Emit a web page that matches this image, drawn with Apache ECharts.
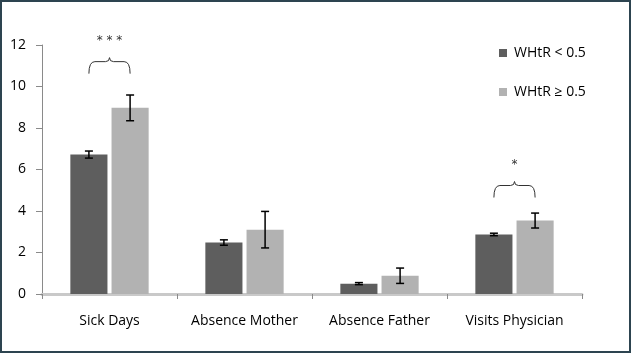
<!DOCTYPE html>
<html>
<head>
<meta charset="utf-8">
<script src="https://cdn.jsdelivr.net/npm/echarts@6/dist/echarts.min.js"></script>
<style>
  html, body { margin: 0; padding: 0; background: #fff; }
  #wrap { position: relative; width: 631px; height: 353px; }
  #chart { position: absolute; left: 0; top: 0; width: 631px; height: 353px; }
  #frame { position: absolute; left: 0; top: 0; width: 631px; height: 353px;
           box-sizing: border-box; border: 2px solid #2d4450; pointer-events: none; }
</style>
</head>
<body>
<div id="wrap">
  <div id="chart"></div>
  <div id="frame"></div>
</div>
<script>
// data
const categories = ['Sick Days', 'Absence Mother', 'Absence Father', 'Visits Physician'];
const seriesNames = ['WHtR < 0.5', 'WHtR \u2265 0.5'];
const lowMean = [6.72, 2.48, 0.5, 2.87];
const lowErr = [0.17, 0.13, 0.05, 0.06];
const highMean = [8.97, 3.1, 0.88, 3.54];
const highErr = [0.62, 0.88, 0.37, 0.36];
const yTicks = { min: 0, max: 12, interval: 2 };

// significance braces: category, value at brace ends, stars
const braceCats = [0, 3];
const braceLevel = [10.62, 4.65];
const braceLabel = ['* * *', '*'];

const darkColor = '#5e5e5e';
const lightColor = '#b2b2b2';
const catGap = 0.42;   // barCategoryGap
const barGapRatio = 0.11;

// half distance between the two bar centres, in px
function barOffset(api) {
  const band = api.size([1, 0])[0];
  const w = band * (1 - catGap) / (2 + barGapRatio);
  return (w + w * barGapRatio) / 2;
}

function errorRenderer(sign) {
  return function (params, api) {
    const i = api.value(0);
    const top = api.coord([i, api.value(1) + api.value(2)]);
    const bot = api.coord([i, api.value(1) - api.value(2)]);
    const x = top[0] + sign * barOffset(api);
    const cap = 4;
    const style = { stroke: '#000', lineWidth: 1.5 };
    return {
      type: 'group',
      children: [
        { type: 'line', shape: { x1: x, y1: top[1], x2: x, y2: bot[1] }, style: style },
        { type: 'line', shape: { x1: x - cap, y1: top[1], x2: x + cap, y2: top[1] }, style: style },
        { type: 'line', shape: { x1: x - cap, y1: bot[1], x2: x + cap, y2: bot[1] }, style: style }
      ]
    };
  };
}

function braceRenderer(params, api) {
  const c = api.coord([api.value(0), api.value(1)]);
  const off = barOffset(api);
  const x0 = c[0] - off, x1 = c[0] + off, xm = c[0], yb = c[1];
  const yl = yb - 12;
  const path = 'M' + x0 + ',' + yb +
    ' Q' + x0 + ',' + yl + ' ' + (x0 + 6) + ',' + yl +
    ' L' + (xm - 4) + ',' + yl +
    ' Q' + xm + ',' + yl + ' ' + xm + ',' + (yl - 4) +
    ' Q' + xm + ',' + yl + ' ' + (xm + 4) + ',' + yl +
    ' L' + (x1 - 6) + ',' + yl +
    ' Q' + x1 + ',' + yl + ' ' + x1 + ',' + yb;
  return {
    type: 'group',
    children: [
      { type: 'path', shape: { pathData: path }, style: { stroke: '#333', lineWidth: 1, fill: null } },
      { type: 'text', x: xm, y: yl - 21,
        style: { text: braceLabel[params.dataIndex], fill: '#333', font: '12px "DejaVu Sans"', align: 'center', verticalAlign: 'middle' } }
    ]
  };
}

const chart = echarts.init(document.getElementById('chart'));
const option = {
  animation: false,
  backgroundColor: '#fff',
  textStyle: { fontFamily: '"Open Sans", "Noto Sans", sans-serif' },
  grid: { left: 42, right: 49, top: 45, bottom: 59 },
  legend: {
    orient: 'vertical',
    left: 494,
    top: 41,
    itemWidth: 8,
    itemHeight: 8,
    itemGap: 25,
    icon: 'rect',
    data: seriesNames,
    textStyle: { fontSize: 14, color: '#000', padding: [0, 0, 0, 2] }
  },
  xAxis: {
    type: 'category',
    data: categories,
    axisLine: { lineStyle: { color: '#c9c9c9', width: 3 } },
    axisTick: { show: true, interval: 0, alignWithLabel: false, length: 5, lineStyle: { color: '#8a8a8a' } },
    axisLabel: { interval: 0, hideOverlap: false, fontSize: 14, color: '#000', margin: 20 }
  },
  yAxis: {
    type: 'value',
    min: yTicks.min,
    max: yTicks.max,
    interval: yTicks.interval,
    splitLine: { show: false },
    axisLine: { show: true, lineStyle: { color: '#8a8a8a' } },
    axisTick: { show: true, length: 6, lineStyle: { color: '#8a8a8a' } },
    axisLabel: { fontSize: 14, color: '#000', margin: 16 }
  },
  series: [
    {
      name: seriesNames[0],
      type: 'bar',
      data: lowMean,
      barCategoryGap: (catGap * 100) + '%',
      barGap: (barGapRatio * 100) + '%',
      itemStyle: { color: darkColor }
    },
    {
      name: seriesNames[1],
      type: 'bar',
      data: highMean,
      itemStyle: { color: lightColor }
    },
    {
      type: 'custom',
      renderItem: errorRenderer(-1),
      data: lowMean.map((v, i) => [i, v, lowErr[i]]),
      z: 10,
      silent: true
    },
    {
      type: 'custom',
      renderItem: errorRenderer(1),
      data: highMean.map((v, i) => [i, v, highErr[i]]),
      z: 10,
      silent: true
    },
    {
      type: 'custom',
      renderItem: braceRenderer,
      data: braceCats.map((c, i) => [c, braceLevel[i]]),
      clip: false,
      z: 10,
      silent: true
    }
  ]
};
chart.setOption(option);
</script>
</body>
</html>
